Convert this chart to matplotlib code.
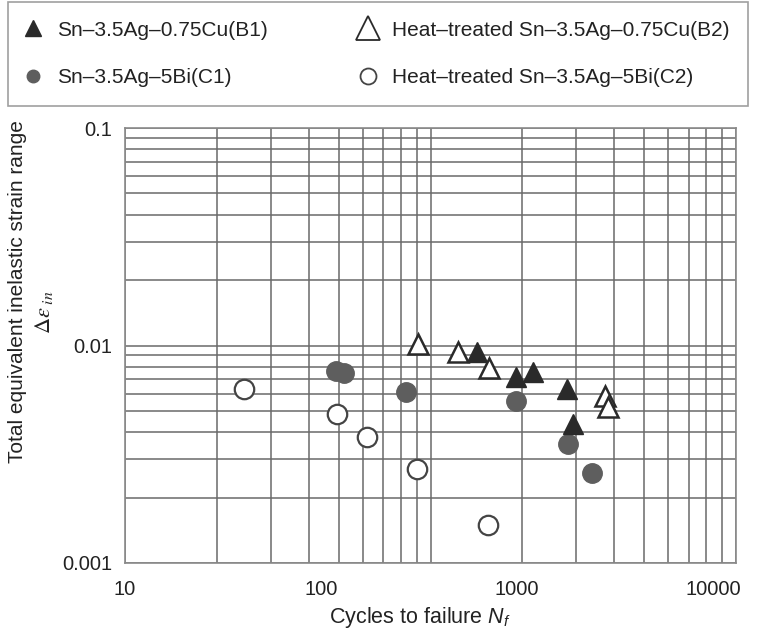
import matplotlib
matplotlib.use("Agg")
import matplotlib.pyplot as plt
from matplotlib.lines import Line2D
from matplotlib.ticker import FixedLocator, NullLocator, LogLocator

plt.rcParams['font.family'] = ['Liberation Sans', 'DejaVu Sans']
plt.rcParams['mathtext.fontset'] = 'custom'
plt.rcParams['mathtext.it'] = 'Liberation Sans:italic'
plt.rcParams['mathtext.rm'] = 'Liberation Sans'

# ---- data (cycles to failure, inelastic strain range) ----
b1_n = [625, 988, 1207, 1799, 1931]
b1_e = [0.00929, 0.00720, 0.00759, 0.00634, 0.00437]
b2_n = [312, 500, 720, 2812, 2912]
b2_e = [0.0102, 0.00929, 0.00792, 0.00588, 0.00524]
c1_n = [119, 131, 271, 988, 1820, 2415]
c1_e = [0.00767, 0.00750, 0.00614, 0.00558, 0.00353, 0.00260]
c2_n = [40.5, 121, 172, 309, 711]
c2_e = [0.00634, 0.00486, 0.00381, 0.00271, 0.00150]

labels = ["Sn\u20133.5Ag\u20130.75Cu(B1)",
          "Heat\u2013treated Sn\u20133.5Ag\u20130.75Cu(B2)",
          "Sn\u20133.5Ag\u20135Bi(C1)",
          "Heat\u2013treated Sn\u20133.5Ag\u20135Bi(C2)"]
xticks = [10, 100, 1000, 10000]
xtick_labels = ["10", "100", "1000", "10000"]
yticks = [0.001, 0.01, 0.1]
ytick_labels = ["0.001", "0.01", "0.1"]

W, H = 766, 635
fig = plt.figure(figsize=(W / 100, H / 100), dpi=100)
fig.patch.set_facecolor('white')

L, R, T, B = 125, 736, 128, 563
rect = [L / W, 1 - B / H, (R - L) / W, (B - T) / H]

# grid axes (the printed grid spans two decades)
gax = fig.add_axes(rect, zorder=1)
gax.set_xscale('log')
gax.set_yscale('log')
gax.set_xlim(10, 1000)
gax.set_ylim(0.001, 0.1)
gax.xaxis.set_minor_locator(LogLocator(base=10, subs=range(2, 10)))
gax.yaxis.set_minor_locator(LogLocator(base=10, subs=range(2, 10)))
gax.grid(True, which='both', color='#6a6a6a', linewidth=1.1)
gax.tick_params(which='both', length=0, labelbottom=False, labelleft=False)
for s in gax.spines.values():
    s.set_color('#8a8a8a')
    s.set_linewidth(1.2)

# data axes
ax = fig.add_axes(rect, zorder=2)
ax.patch.set_visible(False)
ax.set_xscale('log')
ax.set_yscale('log')
xmax = 10 ** (1 + (R - L) / 196.0)
ax.set_xlim(10, xmax)
ax.set_ylim(0.001, 0.1)
ax.xaxis.set_major_locator(FixedLocator(xticks))
ax.xaxis.set_minor_locator(NullLocator())
ax.yaxis.set_major_locator(FixedLocator(yticks))
ax.yaxis.set_minor_locator(NullLocator())
ax.set_xticklabels(xtick_labels)
ax.set_yticklabels(ytick_labels)
ax.tick_params(which='both', length=0, labelsize=14.5, colors='#222222')
ax.tick_params(axis='x', pad=12)
ax.tick_params(axis='y', pad=9)
for s in ax.spines.values():
    s.set_visible(False)

ms = 14
ax.plot(b2_n, b2_e, linestyle='none', marker='^', ms=ms, mfc='white', mec='#2a2a2a', mew=1.8, zorder=3)
ax.plot(b1_n, b1_e, linestyle='none', marker='^', ms=ms, mfc='#2a2a2a', mec='#2a2a2a', zorder=4)
ax.plot(c1_n, c1_e, linestyle='none', marker='o', ms=ms, mfc='#5e5e5e', mec='#5e5e5e', zorder=3)
ax.plot(c2_n, c2_e, linestyle='none', marker='o', ms=ms, mfc='white', mec='#444444', mew=1.6, zorder=3)

fig.text(420 / W, 1 - 617 / H, "Cycles to failure $N_f$", fontsize=15.5,
         ha='center', va='center', color='#222222')

fig.text(18 / W, 1 - 292 / H, "Total equivalent inelastic strain range", rotation=90,
         fontsize=15, ha='center', va='center', color='#222222')
fig.text(44 / W, 1 - 312 / H, r"$\mathit{\Delta\varepsilon}_{\ in}$", rotation=90,
         fontsize=16, ha='center', va='center', color='#222222', math_fontfamily='stix')

handles = [
    Line2D([], [], linestyle='none', marker='^', ms=11, mfc='#2a2a2a', mec='#2a2a2a'),
    Line2D([], [], linestyle='none', marker='o', ms=9, mfc='#5e5e5e', mec='#5e5e5e'),
    Line2D([], [], linestyle='none', marker='^', ms=17, mfc='white', mec='#2a2a2a', mew=1.3),
    Line2D([], [], linestyle='none', marker='o', ms=11.5, mfc='white', mec='#444444', mew=1.3),
]
leg_labels = [labels[0], labels[2], labels[1], labels[3]]
leg = fig.legend(handles, leg_labels, ncol=2, loc='upper left',
                 bbox_to_anchor=(8 / W, 1 - 2 / H), fontsize=15,
                 frameon=True, fancybox=False, edgecolor='#888888',
                 handlelength=0.6, handletextpad=0.85, labelspacing=1.35,
                 columnspacing=4.5, borderpad=0.9, borderaxespad=0)
leg.get_frame().set_linewidth(1.2)
for t in leg.get_texts():
    t.set_color('#222222')

fig.savefig("out.png", dpi=100)
